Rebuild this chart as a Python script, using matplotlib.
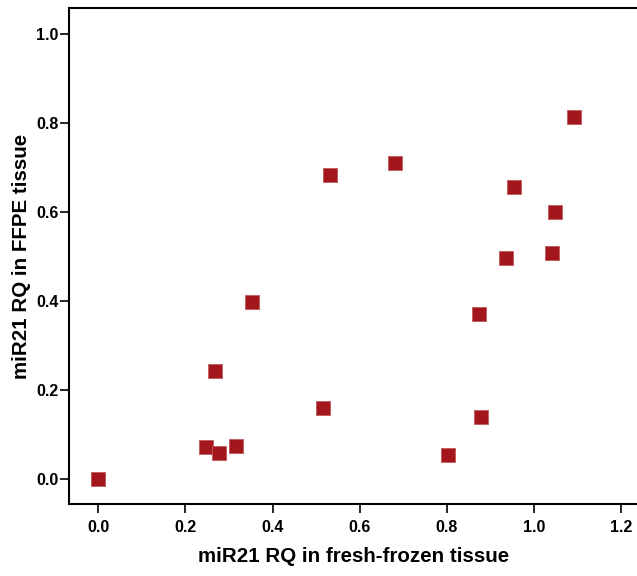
import matplotlib.pyplot as plt

fresh_frozen = [0.0, 0.248, 0.278, 0.317, 0.269, 0.352, 0.517, 0.531, 0.680,
                0.802, 0.878, 0.874, 0.936, 0.954, 1.041, 1.048, 1.092]
ffpe = [0.0, 0.072, 0.058, 0.074, 0.243, 0.398, 0.160, 0.683, 0.710,
        0.054, 0.139, 0.371, 0.497, 0.656, 0.508, 0.600, 0.813]

x_ticks = [0.0, 0.2, 0.4, 0.6, 0.8, 1.0, 1.2]
y_ticks = [0.0, 0.2, 0.4, 0.6, 0.8, 1.0]

plt.rcParams['font.family'] = ['Liberation Sans', 'DejaVu Sans']
plt.rcParams['font.weight'] = 'bold'

fig = plt.figure(figsize=(6.37, 5.76), dpi=100)
ax = fig.add_axes([0.1083, 0.1250, 0.8935, 0.8611])

ax.scatter(fresh_frozen, ffpe, marker='s', s=95, color='#a3161b',
           edgecolors='#c05a5e', linewidths=0.6, zorder=3)

ax.set_xlim(-0.067, 1.239)
ax.set_ylim(-0.056, 1.058)
ax.set_xticks(x_ticks)
ax.set_yticks(y_ticks)
ax.set_xticklabels(['%.1f' % t for t in x_ticks], fontsize=11.5, fontweight='bold')
ax.set_yticklabels(['%.1f' % t for t in y_ticks], fontsize=11.5, fontweight='bold')
ax.tick_params(direction='out', length=6.5, width=1.2)
ax.tick_params(axis='x', pad=5)
ax.tick_params(axis='y', pad=1)

for s in ax.spines.values():
    s.set_linewidth(1.5)

ax.set_xlabel('miR21 RQ in fresh-frozen tissue', fontsize=14.8, fontweight='bold', labelpad=9)
ax.set_ylabel('miR21 RQ in FFPE tissue', fontsize=14.8, fontweight='bold', labelpad=4)

fig.savefig('out.png', dpi=100)
